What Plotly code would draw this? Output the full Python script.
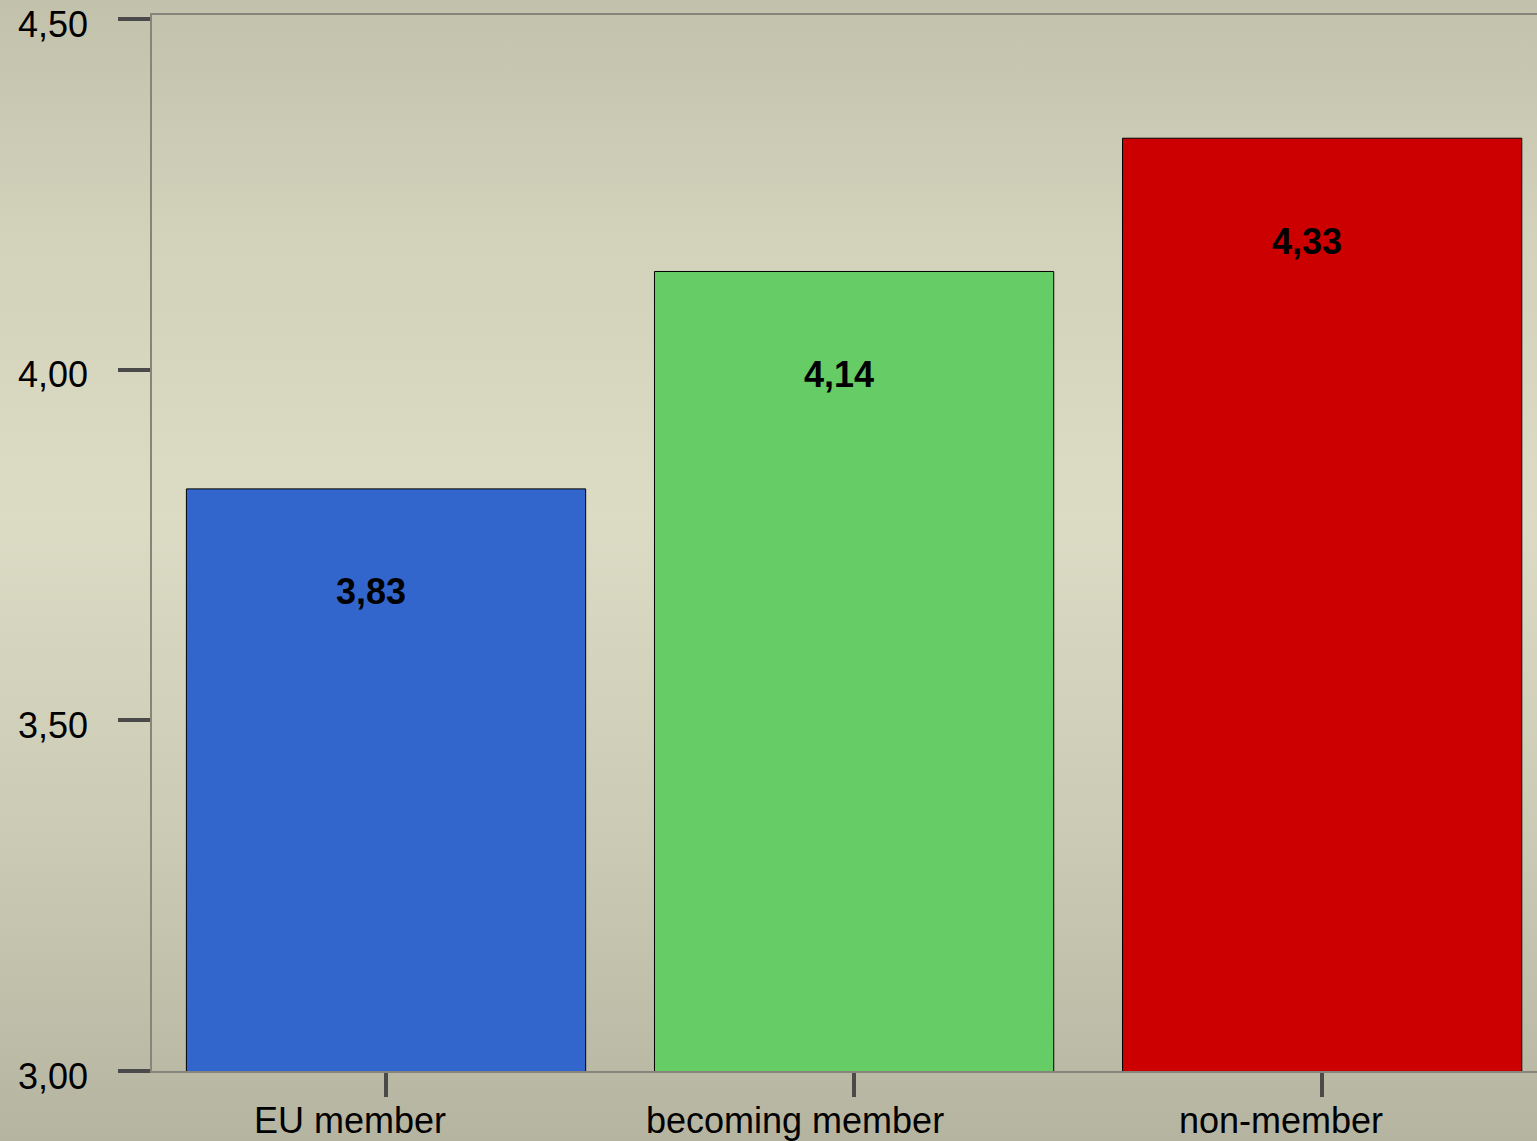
import plotly.graph_objects as go

# ---- data ----
categories = ["EU member", "becoming member", "non-member"]
values = [3.83, 4.14, 4.33]
bar_colors = ["#3366CC", "#66CC66", "#CC0000"]
y_tickvals = [3.0, 3.5, 4.0, 4.5]

# ---- style ----
W, H = 1537, 1141
FONT = "Liberation Sans, Arial, sans-serif"
bg_scale = [[0.0, "#B5B4A0"], [0.25, "#CACAB4"], [0.55, "#DCDBC4"], [0.8, "#D2D1BA"], [1.0, "#C2C1AB"]]
label_xshift = [-36, -59, -41]

fig = go.Figure()

# background gradient on a hidden full-page subplot
fig.add_trace(go.Scatter(
    x=[0, 1, 1, 0, 0], y=[0, 0, 1, 1, 0], mode="lines", fill="toself",
    line=dict(width=0), fillgradient=dict(type="vertical", colorscale=bg_scale),
    hoverinfo="skip", showlegend=False, xaxis="x", yaxis="y"))

fig.add_trace(go.Bar(
    x=categories, y=values, marker=dict(color=bar_colors, line=dict(color="#000000", width=1)),
    width=0.853, showlegend=False, xaxis="x2", yaxis="y2", hoverinfo="x+y"))

annotations = []
for c, v in zip(categories, values):
    annotations.append(dict(
        x=c, y=v, xref="x2", yref="y2", text=f"{v:.2f}".replace(".", ","),
        showarrow=False, xshift=-15, yshift=-103, yanchor="middle",
        font=dict(family=FONT, size=36, color="#000000", weight="bold")))
for c, dx in zip(categories, label_xshift):
    annotations.append(dict(
        x=c, y=0, xref="x2", yref="y2 domain", text=c, showarrow=False,
        xshift=dx, yshift=-27, yanchor="top",
        font=dict(family=FONT, size=36, color="#000000")))

fig.update_layout(
    width=W, height=H, margin=dict(l=0, r=0, t=0, b=0, autoexpand=False),
    paper_bgcolor="#CBCAB4", plot_bgcolor="rgba(0,0,0,0)",
    separators=",.", font=dict(family=FONT, size=36, color="#000000"),
    showlegend=False, annotations=annotations,
    xaxis=dict(domain=[0, 1], range=[0, 1], visible=False, fixedrange=True),
    yaxis=dict(domain=[0, 1], range=[0, 1], visible=False, fixedrange=True),
    xaxis2=dict(domain=[152 / W, 1], anchor="y2", type="category",
                range=[-0.5, 2.459], showgrid=False, zeroline=False,
                showline=True, linecolor="#85857c", linewidth=1.5, mirror=True,
                ticks="outside", ticklen=24, tickwidth=4, tickcolor="#4a4a4a",
                showticklabels=False),
    yaxis2=dict(domain=[(H - 1071) / H, (H - 15) / H], anchor="x2",
                range=[3.0, 4.5057], showgrid=False, zeroline=False,
                showline=True, linecolor="#85857c", linewidth=1.5,
                ticks="outside", ticklen=32, tickwidth=4, tickcolor="#4a4a4a",
                tickvals=y_tickvals, tickformat=".2f", ticklabelstandoff=23,
                ticklabelshift=5, ticklabeloverflow="allow",
                tickfont=dict(family=FONT, size=36, color="#000000")),
)

fig.write_html("out.html", config={"displayModeBar": False},
               post_script="document.body.style.margin='0';document.body.style.overflow='hidden';")
